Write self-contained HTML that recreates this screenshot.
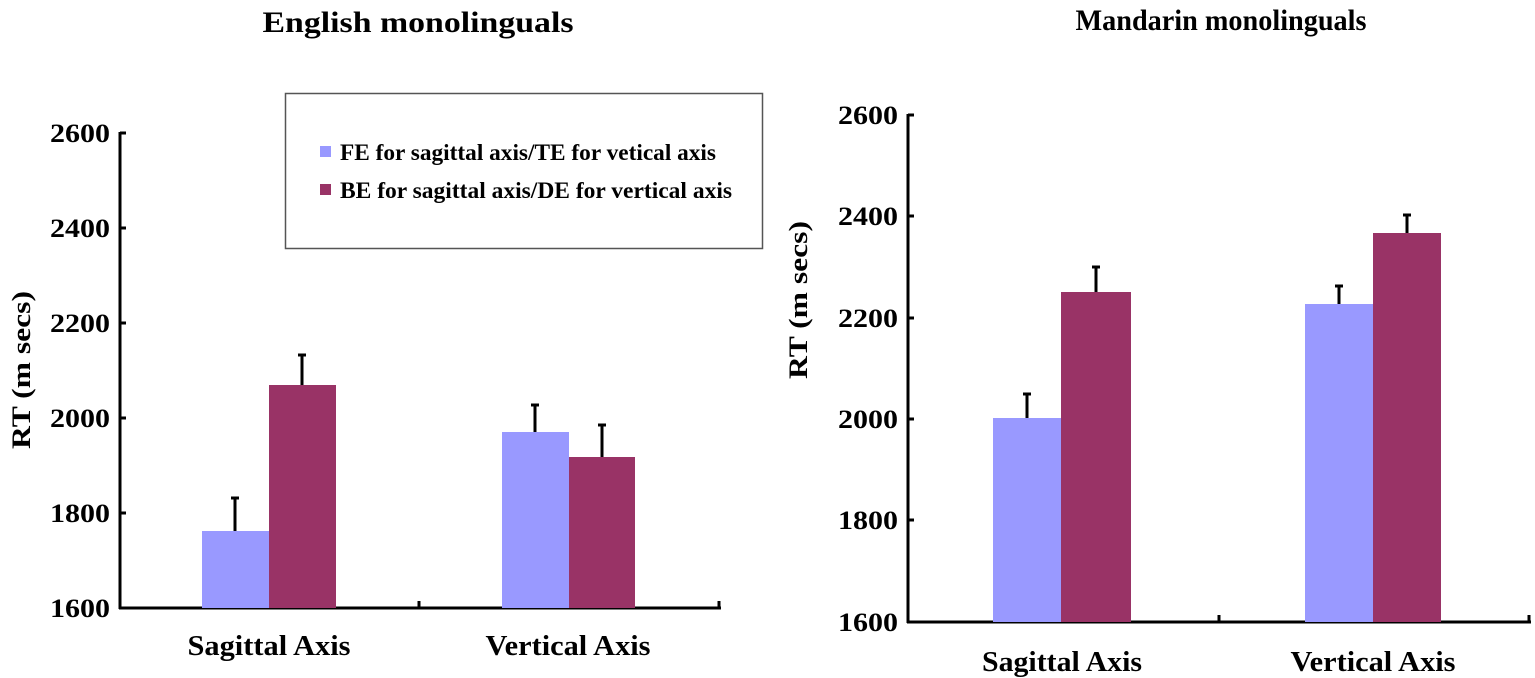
<!DOCTYPE html>
<html><head><meta charset="utf-8"><style>
body{margin:0;background:#fff}
svg{display:block}
text{font-family:"Liberation Serif",serif;font-weight:bold;fill:#000}
</style></head><body>
<svg width="1535" height="678" viewBox="0 0 1535 678">
<text x="418" y="32" font-size="30" text-anchor="middle" textLength="311" lengthAdjust="spacingAndGlyphs">English monolinguals</text>
<text x="1221" y="30" font-size="30" text-anchor="middle" textLength="291" lengthAdjust="spacingAndGlyphs">Mandarin monolinguals</text>

<!-- Left chart -->
<g stroke="#000" stroke-width="3" fill="none">
<line x1="120" y1="132" x2="120" y2="609"/>
<line x1="119" y1="608" x2="721" y2="608"/>
<line x1="120" y1="133" x2="126" y2="133"/><line x1="120" y1="228" x2="126" y2="228"/><line x1="120" y1="323" x2="126" y2="323"/><line x1="120" y1="418" x2="126" y2="418"/><line x1="120" y1="513" x2="126" y2="513"/>
<line x1="419" y1="601" x2="419" y2="608"/><line x1="719" y1="601" x2="719" y2="608"/>
</g>
<g font-size="26" text-anchor="end">
<text x="110" y="142" textLength="60" lengthAdjust="spacingAndGlyphs">2600</text><text x="110" y="237" textLength="60" lengthAdjust="spacingAndGlyphs">2400</text><text x="110" y="332" textLength="60" lengthAdjust="spacingAndGlyphs">2200</text><text x="110" y="427" textLength="60" lengthAdjust="spacingAndGlyphs">2000</text><text x="110" y="522" textLength="60" lengthAdjust="spacingAndGlyphs">1800</text><text x="110" y="617" textLength="60" lengthAdjust="spacingAndGlyphs">1600</text>
</g>
<text transform="translate(30,370) rotate(-90)" font-size="26" text-anchor="middle" textLength="158" lengthAdjust="spacingAndGlyphs">RT (m secs)</text>
<rect x="202" y="531" width="67" height="77" fill="#9999FF"/>
<rect x="269" y="385" width="67" height="223" fill="#993366"/>
<rect x="502" y="432" width="67" height="176" fill="#9999FF"/>
<rect x="569" y="457" width="66" height="151" fill="#993366"/>
<g stroke="#000" stroke-width="3">
<line x1="235" y1="531" x2="235" y2="498"/><line x1="231" y1="498" x2="239" y2="498"/>
<line x1="302" y1="385" x2="302" y2="355"/><line x1="298" y1="355" x2="306" y2="355"/>
<line x1="535" y1="432" x2="535" y2="405"/><line x1="531" y1="405" x2="539" y2="405"/>
<line x1="602" y1="457" x2="602" y2="425"/><line x1="598" y1="425" x2="606" y2="425"/>
</g>
<text x="269" y="655" font-size="29" text-anchor="middle" textLength="163" lengthAdjust="spacingAndGlyphs">Sagittal Axis</text>
<text x="568" y="655" font-size="29" text-anchor="middle" textLength="165" lengthAdjust="spacingAndGlyphs">Vertical Axis</text>

<rect x="285.5" y="93.5" width="477" height="155" fill="#fff" stroke="#555" stroke-width="1.5"/>
<rect x="320" y="146" width="11" height="11" fill="#9999FF"/>
<text x="340" y="160" font-size="23" textLength="376" lengthAdjust="spacingAndGlyphs">FE for sagittal axis/TE for vetical axis</text>
<rect x="320" y="184" width="11" height="11" fill="#993366"/>
<text x="340" y="198" font-size="23" textLength="392" lengthAdjust="spacingAndGlyphs">BE for sagittal axis/DE for vertical axis</text>

<!-- Right chart -->
<g stroke="#000" stroke-width="3" fill="none">
<line x1="908" y1="114" x2="908" y2="623"/>
<line x1="907" y1="622" x2="1531" y2="622"/>
<line x1="908" y1="115" x2="914" y2="115"/><line x1="908" y1="216" x2="914" y2="216"/><line x1="908" y1="318" x2="914" y2="318"/><line x1="908" y1="419" x2="914" y2="419"/><line x1="908" y1="520" x2="914" y2="520"/>
<line x1="1219" y1="615" x2="1219" y2="622"/><line x1="1529" y1="615" x2="1529" y2="622"/>
</g>
<g font-size="26" text-anchor="end">
<text x="898" y="124" textLength="60" lengthAdjust="spacingAndGlyphs">2600</text><text x="898" y="225" textLength="60" lengthAdjust="spacingAndGlyphs">2400</text><text x="898" y="327" textLength="60" lengthAdjust="spacingAndGlyphs">2200</text><text x="898" y="428" textLength="60" lengthAdjust="spacingAndGlyphs">2000</text><text x="898" y="529" textLength="60" lengthAdjust="spacingAndGlyphs">1800</text><text x="898" y="631" textLength="60" lengthAdjust="spacingAndGlyphs">1600</text>
</g>
<text transform="translate(807,300) rotate(-90)" font-size="26" text-anchor="middle" textLength="158" lengthAdjust="spacingAndGlyphs">RT (m secs)</text>
<rect x="993" y="418" width="68" height="204" fill="#9999FF"/>
<rect x="1061" y="292" width="70" height="330" fill="#993366"/>
<rect x="1305" y="304" width="68" height="318" fill="#9999FF"/>
<rect x="1373" y="233" width="68" height="389" fill="#993366"/>
<g stroke="#000" stroke-width="3">
<line x1="1027" y1="418" x2="1027" y2="394"/><line x1="1023" y1="394" x2="1031" y2="394"/>
<line x1="1096" y1="292" x2="1096" y2="267"/><line x1="1092" y1="267" x2="1100" y2="267"/>
<line x1="1339" y1="304" x2="1339" y2="286"/><line x1="1335" y1="286" x2="1343" y2="286"/>
<line x1="1407" y1="233" x2="1407" y2="215"/><line x1="1403" y1="215" x2="1411" y2="215"/>
</g>
<text x="1062" y="671" font-size="29" text-anchor="middle" textLength="160" lengthAdjust="spacingAndGlyphs">Sagittal Axis</text>
<text x="1373" y="671" font-size="29" text-anchor="middle" textLength="165" lengthAdjust="spacingAndGlyphs">Vertical Axis</text>
</svg>
</body></html>
